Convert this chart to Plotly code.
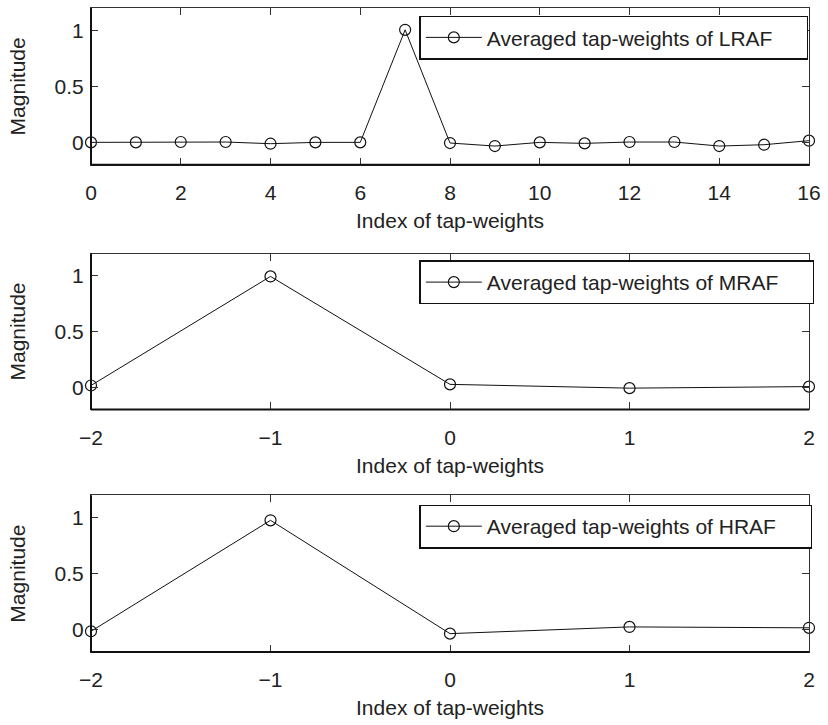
import plotly.graph_objects as go

# Data
lraf_x = list(range(0, 17))
lraf_y = [0.0, 0.0, 0.003, 0.003, -0.012, 0.0, 0.0, 1.005, -0.006, -0.033,
          0.0, -0.009, 0.003, 0.003, -0.033, -0.021, 0.015]
mraf_x = [-2, -1, 0, 1, 2]
mraf_y = [0.015, 0.995, 0.025, -0.009, 0.005]
hraf_x = [-2, -1, 0, 1, 2]
hraf_y = [-0.015, 0.976, -0.036, 0.024, 0.016]

names = ["Averaged tap-weights of LRAF", "Averaged tap-weights of MRAF", "Averaged tap-weights of HRAF"]
xlabel = "Index of tap-weights"
ylabel = "Magnitude"
ytickvals = [0, 0.5, 1]
x1ticks = [0, 2, 4, 6, 8, 10, 12, 14, 16]
x23ticks = [-2, -1, 0, 1, 2]

FONT = "Liberation Sans, Arial, sans-serif"
TXT = "#222222"
FS = 21

fig = go.Figure()
domains = [[0.7566, 1.0], [0.3767, 0.6186], [0.0, 0.2434]]
legend_tops = [0.988, 0.608, 0.229]
series = [(lraf_x, lraf_y), (mraf_x, mraf_y), (hraf_x, hraf_y)]
xranges = [[0, 16], [-2, 2], [-2, 2]]
xtickvals = [x1ticks, x23ticks, x23ticks]

for i, ((xs, ys), name) in enumerate(zip(series, names)):
    idx = "" if i == 0 else str(i + 1)
    fig.add_trace(go.Scatter(
        x=xs, y=ys, mode="lines+markers", name=name + "\u00a0" * 5,
        line=dict(color="#111111", width=1),
        marker=dict(symbol="circle-open", size=11, color="#111111", line=dict(width=1.2)),
        cliponaxis=False,
        xaxis="x" + idx, yaxis="y" + idx,
        legend="legend" + idx,
    ))
    axis_common = dict(showline=True, linecolor="#333333", linewidth=1, mirror="ticks",
                       ticks="inside", ticklen=7, tickcolor="#333333", tickwidth=1,
                       showgrid=False, zeroline=False,
                       tickfont=dict(family=FONT, size=FS, color=TXT))
    fig.update_layout(**{
        "xaxis" + idx: dict(domain=[0, 1], range=xranges[i], tickvals=xtickvals[i],
                            anchor="y" + idx, ticklabelstandoff=9,
                            title=dict(text=xlabel, font=dict(family=FONT, size=FS, color=TXT), standoff=10),
                            **axis_common),
        "yaxis" + idx: dict(domain=domains[i], range=[-0.2, 1.2], tickvals=ytickvals,
                            anchor="x" + idx, ticklabelstandoff=2,
                            title=dict(text=ylabel, font=dict(family=FONT, size=FS, color=TXT), standoff=23),
                            **axis_common),
        "legend" + idx: dict(x=(423 - 91) / 726, y=legend_tops[i], xanchor="left", yanchor="top",
                             bordercolor="#111111", borderwidth=1.5, bgcolor="white",
                             font=dict(family=FONT, size=FS, color=TXT),
                             itemwidth=56, tracegroupgap=0),
    })
    # thicker bottom and left frame edges
    fig.add_shape(type="line", xref="x" + idx + " domain", yref="y" + idx + " domain",
                  x0=0, x1=1, y0=0, y1=0, line=dict(color="#111111", width=2))
    fig.add_shape(type="line", xref="x" + idx + " domain", yref="y" + idx + " domain",
                  x0=0, x1=0, y0=0, y1=1, line=dict(color="#111111", width=2))

fig.update_layout(width=828, height=725, margin=dict(l=91, r=11, t=7, b=73),
                  paper_bgcolor="white", plot_bgcolor="white", showlegend=True)

fig.write_html("out.html")
